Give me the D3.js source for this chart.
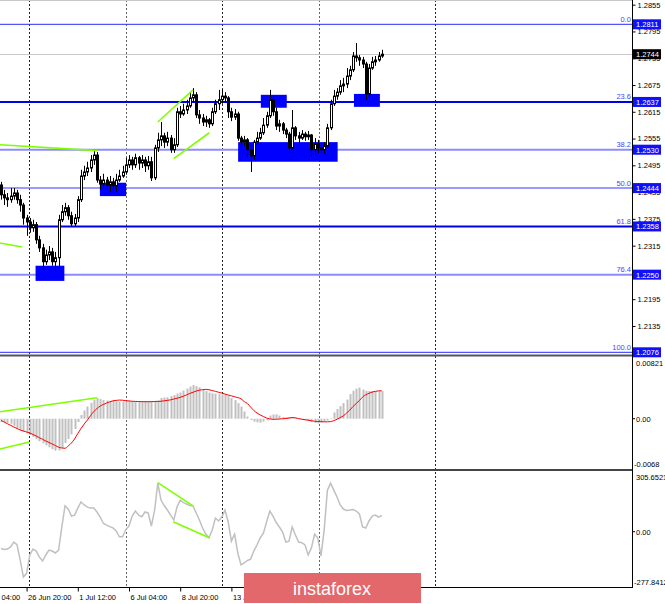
<!DOCTYPE html>
<html><head><meta charset="utf-8">
<script src="https://cdn.jsdelivr.net/npm/d3@7"></script>
<style>
body{margin:0;background:#fff;}
svg{display:block;}
text{font-family:"Liberation Sans",Arial,sans-serif;}
</style>
</head><body>
<svg id="c" width="665" height="604"></svg>
<script>
// ---------- DATA ----------
const firstOpen = 1.2451;
const closes = [1.2429,1.2422,1.2418,1.2426,1.2433,1.2418,1.2406,1.2377,1.2368,1.2355,
1.2362,1.2328,1.2310,1.2279,1.2294,1.2301,1.2279,1.2288,1.2373,1.2391,
1.2400,1.2382,1.2364,1.2377,1.2418,1.2471,1.2480,1.2489,1.2507,1.2518,
1.2462,1.2453,1.2462,1.2451,1.2458,1.2449,1.2462,1.2471,1.2480,1.2496,
1.2507,1.2496,1.2512,1.2500,1.2507,1.2494,1.2503,1.2467,1.2534,1.2552,
1.2561,1.2547,1.2556,1.2530,1.2541,1.2615,1.2610,1.2619,1.2628,1.2646,
1.2653,1.2608,1.2601,1.2592,1.2597,1.2588,1.2615,1.2633,1.2642,1.2650,
1.2646,1.2615,1.2603,1.2610,1.2556,1.2547,1.2552,1.2530,1.2516,1.2547,
1.2556,1.2568,1.2585,1.2606,1.2642,1.2615,1.2583,1.2588,1.2574,1.2565,
1.2534,1.2579,1.2561,1.2556,1.2565,1.2559,1.2563,1.2530,1.2543,1.2534,
1.2530,1.2538,1.2579,1.2633,1.2650,1.2659,1.2673,1.2677,1.2695,1.2709,
1.2740,1.2736,1.2731,1.2722,1.2655,1.2713,1.2727,1.2731,1.2740,1.2744];
const highs = [1.2458,1.2440,1.2433,1.2444,1.2444,1.2440,1.2429,1.2411,1.2384,1.2377,
1.2373,1.2368,1.2337,1.2319,1.2306,1.2314,1.2310,1.2301,1.2384,1.2406,
1.2411,1.2406,1.2391,1.2386,1.2426,1.2485,1.2494,1.2503,1.2518,1.2530,
1.2525,1.2471,1.2476,1.2469,1.2471,1.2467,1.2476,1.2485,1.2494,1.2512,
1.2518,1.2514,1.2521,1.2516,1.2518,1.2514,1.2516,1.2514,1.2541,1.2568,
1.2592,1.2568,1.2570,1.2563,1.2556,1.2624,1.2628,1.2633,1.2642,1.2659,
1.2668,1.2659,1.2619,1.2610,1.2606,1.2601,1.2624,1.2642,1.2664,1.2666,
1.2659,1.2650,1.2624,1.2621,1.2615,1.2561,1.2561,1.2556,1.2541,1.2552,
1.2570,1.2579,1.2601,1.2615,1.2664,1.2650,1.2624,1.2597,1.2592,1.2579,
1.2570,1.2619,1.2583,1.2570,1.2574,1.2570,1.2572,1.2565,1.2556,1.2552,
1.2545,1.2547,1.2588,1.2642,1.2664,1.2668,1.2686,1.2691,1.2713,1.2718,
1.2749,1.2769,1.2742,1.2738,1.2727,1.2722,1.2738,1.2740,1.2749,1.2754];
const lows = [1.2418,1.2406,1.2402,1.2411,1.2418,1.2409,1.2391,1.2362,1.2337,1.2344,
1.2346,1.2319,1.2301,1.2261,1.2272,1.2283,1.2270,1.2256,1.2265,1.2368,
1.2382,1.2373,1.2359,1.2359,1.2368,1.2413,1.2462,1.2471,1.2480,1.2496,
1.2456,1.2440,1.2444,1.2440,1.2435,1.2433,1.2435,1.2458,1.2467,1.2474,
1.2489,1.2485,1.2489,1.2485,1.2489,1.2480,1.2485,1.2460,1.2462,1.2525,
1.2538,1.2534,1.2538,1.2523,1.2523,1.2536,1.2601,1.2606,1.2610,1.2624,
1.2637,1.2601,1.2588,1.2583,1.2581,1.2579,1.2583,1.2610,1.2619,1.2633,
1.2635,1.2601,1.2594,1.2597,1.2550,1.2536,1.2538,1.2512,1.2480,1.2507,
1.2541,1.2552,1.2563,1.2579,1.2601,1.2606,1.2574,1.2570,1.2565,1.2556,
1.2523,1.2530,1.2552,1.2545,1.2552,1.2550,1.2552,1.2514,1.2518,1.2523,
1.2523,1.2521,1.2534,1.2574,1.2628,1.2642,1.2653,1.2659,1.2668,1.2686,
1.2704,1.2727,1.2718,1.2713,1.2642,1.2646,1.2709,1.2718,1.2727,1.2736];

const macdHist = [-0.00042,-0.00049,-0.00057,-0.00068,-0.00096,-0.00126,-0.00154,-0.00176,-0.00197,-0.00219,
-0.00247,-0.00277,-0.00305,-0.00333,-0.0036,-0.00387,-0.00413,-0.00432,-0.00429,-0.00396,
-0.00328,-0.00274,-0.00213,-0.00139,-0.00045,0.0005,0.00111,0.00165,0.00216,0.00252,
0.0028,0.00266,0.00252,0.00247,0.00243,0.00239,0.00235,0.0023,0.00232,0.00236,
0.00239,0.00236,0.00232,0.0023,0.00232,0.00235,0.00235,0.00239,0.00242,0.00246,
0.0028,0.00286,0.00289,0.00306,0.0032,0.0034,0.00354,0.00381,0.00408,0.00435,
0.00455,0.00441,0.00424,0.00394,0.00374,0.00354,0.00344,0.00338,0.00333,0.00329,
0.00323,0.00306,0.0028,0.00252,0.00212,0.00165,0.00097,0.0003,-0.00018,-0.0004,
-0.00049,-0.00054,-0.00038,-0.00022,0.00043,0.00057,0.00059,0.00043,0.00023,0.0002,
0.00023,0.00023,0.00012,0.00001,-0.00004,-0.00015,-0.00031,-0.00045,-0.00058,-0.00062,
-0.00051,-0.00038,-0.00024,0.00003,0.00084,0.00131,0.00171,0.00212,0.00259,0.00333,
0.00378,0.00406,0.00421,0.00394,0.00377,0.00374,0.00374,0.00374,0.00374,0.00374];
const macdSignal = [-0.00024,-0.00045,-0.00068,-0.00089,-0.00112,-0.00132,-0.00153,-0.00166,-0.0018,-0.00193,
-0.00213,-0.00234,-0.00257,-0.00278,-0.00301,-0.00321,-0.00342,-0.00363,-0.00385,-0.00396,
-0.004,-0.00369,-0.00328,-0.00274,-0.002,-0.00132,-0.00072,-0.00018,0.00043,0.00097,
0.00138,0.00171,0.00192,0.00212,0.00228,0.00242,0.00248,0.00252,0.0025,0.00244,
0.0024,0.00236,0.00234,0.00232,0.00231,0.0023,0.0023,0.00231,0.00232,0.00234,
0.00236,0.00242,0.00248,0.00255,0.00266,0.00277,0.00289,0.00304,0.00323,0.00342,
0.00358,0.00374,0.00386,0.00393,0.00397,0.00392,0.00381,0.0037,0.00358,0.00347,
0.00333,0.0032,0.00309,0.00297,0.00285,0.00269,0.00232,0.00205,0.00158,0.00111,
0.00077,0.0005,0.0003,0.00009,-0.00003,-0.00008,-0.00007,-0.00004,-0.00001,0.00003,
0.00009,0.00016,0.00012,0.00001,-0.00007,-0.00014,-0.0002,-0.00028,-0.00034,-0.00038,
-0.0004,-0.00042,-0.00042,-0.00039,-0.00026,-0.00008,0.00016,0.00039,0.00077,0.00117,
0.00165,0.00205,0.00246,0.00293,0.00324,0.00344,0.0036,0.0037,0.00377,0.00378];
const cci = [-86,-91,-89,-78,-53,-66,-145,-232,-213,-119,
-89,-99,-130,-150,-119,-94,-99,-109,-94,24,
132,116,80,85,121,152,137,126,121,121,
101,75,42,34,26,19,4,-26,-26,11,
29,80,106,85,77,101,96,29,111,249,
162,134,111,85,60,126,162,149,142,134,
132,96,60,19,-12,-31,9,70,55,75,
111,50,-48,-12,-109,-170,-160,-147,-140,-99,
-68,-32,-7,50,106,80,47,24,-2,-53,
-48,24,-17,-53,-56,-68,-119,-83,-12,-32,
-124,9,213,249,213,178,137,116,109,111,
114,106,91,24,19,55,80,85,75,83];

const fibLevels = [1.2811, 1.2637, 1.2530, 1.2444, 1.2358, 1.2250, 1.2076];
const fibNames = ["0.0", "23.6", "38.2", "50.0", "61.8", "76.4", "100.0"];
const priceTicks = [1.2855,1.2795,1.2735,1.2675,1.2615,1.2555,1.2495,1.2435,1.2375,1.2315,1.2195,1.2135];
const lastPrice = 1.2744;
const macdTicks = [0.00821, 0, -0.0068];
const macdTickLabels = ["0.00821", "0.00", "-0.0068"];
const cciTicks = [305.6521, 0, -277.8412];
const cciTickLabels = ["305.6521", "0.00", "-277.8412"];
const timeBars = [-8, 8, 24, 40, 56, 72];
const timeLabels = ["24 Jun 04:00", "26 Jun 20:00", "1 Jul 12:00", "6 Jul 04:00", "8 Jul 20:00", "13 Jul 12:00"];
const gridBars = [8.9, 39, 69.2, 99.5, 135.7];
// zones: [barStart, barEnd, priceTop, priceBottom]
const zones = [[10.8,19.8,1.2270,1.2236],[30.9,39.1,1.2456,1.2426],[81.2,89.3,1.2653,1.2624],
               [74.1,105.2,1.2547,1.2503],[110.3,118.4,1.2655,1.2626]];
const priceTrends = [[[-0.3,1.2541],[30,1.2528]], [[-0.3,1.2321],[6.6,1.2312]],
                     [[49,1.2592],[60,1.2664]], [[54,1.2510],[65.1,1.2568]]];
const macdTrends = [[[-0.3,0.00095],[30,0.00284]], [[-0.3,-0.00409],[8.8,-0.00315]]];
const cciTrends = [[[49,251],[60,132]], [[53.8,51],[65.1,-31]]];

// ---------- DRAW ----------
const svg = d3.select('#c');
const R = 632;
const x = d3.scaleLinear().domain([0, 119]).range([1, 381.8]);
const yP = d3.scaleLinear().domain([1.2811, 1.2076]).range([24.3, 352.3]);
const yM = d3.scaleLinear().domain([0.00821, -0.0068]).range([358, 469]);
const yC = d3.scaleLinear().domain([305.6521, -277.8412]).range([472, 586]);

svg.append('rect').attr('width',665).attr('height',604).attr('fill','#fff');
const defs = svg.append('defs');
[['cm',0,0,R,355],['cd',0,357,R,112],['cc',0,471,R,115]].forEach(c=>{
  defs.append('clipPath').attr('id',c[0]).append('rect').attr('x',c[1]).attr('y',c[2]).attr('width',c[3]).attr('height',c[4]);
});

// grid (dotted vertical)
svg.append('g').selectAll('line').data(gridBars).join('line')
  .attr('x1',d=>Math.round(x(d))+0.5).attr('x2',d=>Math.round(x(d))+0.5)
  .attr('y1',0).attr('y2',587).attr('stroke',(d,i)=>i%2?'#666':'#222')
  .attr('stroke-width',1).attr('stroke-dasharray','2,2');

// top border
svg.append('line').attr('x1',0).attr('x2',R).attr('y1',0.5).attr('y2',0.5).attr('stroke','#c8c8c8');

const gm = svg.append('g').attr('clip-path','url(#cm)');
// current price line
gm.append('line').attr('x1',0).attr('x2',R).attr('y1',Math.round(yP(lastPrice))+0.5).attr('y2',Math.round(yP(lastPrice))+0.5)
  .attr('stroke','#c8c8c8').attr('stroke-width',1);
// fib lines
const fibStroke = ['#2a2aff','#0000e6','#8c8cff','#7a7aff','#0000e6','#8c8cff','#2a2aff'];
const fibW = [1,2,2,1.5,2,2,1];
gm.selectAll('line.fib').data(fibLevels).join('line').attr('class','fib')
  .attr('x1',0).attr('x2',R).attr('y1',d=>yP(d)).attr('y2',d=>yP(d))
  .attr('stroke',(d,i)=>fibStroke[i]).attr('stroke-width',(d,i)=>fibW[i]);
// zones
gm.selectAll('rect.zone').data(zones).join('rect').attr('class','zone')
  .attr('x',d=>x(d[0])).attr('width',d=>x(d[1])-x(d[0]))
  .attr('y',d=>yP(d[2])).attr('height',d=>yP(d[3])-yP(d[2])).attr('fill','#0000ff');
// candles
const bars = closes.map((c,i)=>{
  const o = i===0 ? firstOpen : closes[i-1];
  return {i, o, c, h: Math.max(highs[i],o,c), l: Math.min(lows[i],o,c)};
});
const cg = gm.append('g');
cg.selectAll('line.wick').data(bars).join('line').attr('class','wick')
  .attr('x1',d=>Math.round(x(d.i))+0.5).attr('x2',d=>Math.round(x(d.i))+0.5)
  .attr('y1',d=>yP(d.h)).attr('y2',d=>yP(d.l)).attr('stroke','#000').attr('stroke-width',1);
cg.selectAll('rect.body').data(bars).join('rect').attr('class','body')
  .attr('x',d=>Math.round(x(d.i))-0.5).attr('width',2)
  .attr('y',d=>yP(Math.max(d.o,d.c))).attr('height',d=>Math.max(1,Math.abs(yP(d.o)-yP(d.c))))
  .attr('fill',d=>d.c>=d.o?'#fff':'#000').attr('stroke','#000').attr('stroke-width',1);
// trend lines
const lineP = d3.line().x(d=>x(d[0])).y(d=>yP(d[1]));
gm.selectAll('path.tr').data(priceTrends).join('path').attr('class','tr').attr('d',lineP)
  .attr('fill','none').attr('stroke','#7fff00').attr('stroke-width',1.6);
// fib names (outside clip)
svg.append('g').selectAll('text').data(fibLevels).join('text')
  .attr('x',631).attr('y',d=>yP(d)-2.5).attr('text-anchor','end')
  .attr('font-size','7.5px').attr('fill','#4646ff').text((d,i)=>fibNames[i]);

// MACD panel
const gd = svg.append('g').attr('clip-path','url(#cd)');
gd.selectAll('rect').data(macdHist).join('rect')
  .attr('x',(d,i)=>Math.round(x(i))-0.5).attr('width',2)
  .attr('y',d=>Math.min(yM(d),yM(0))).attr('height',d=>Math.max(0.5,Math.abs(yM(d)-yM(0))))
  .attr('fill','#c0c0c0');
gd.append('path').datum(macdSignal).attr('d',d3.line().x((d,i)=>x(i)).y(d=>yM(d)).curve(d3.curveMonotoneX))
  .attr('fill','none').attr('stroke','#ff0000').attr('stroke-width',1);
gd.selectAll('path.tr').data(macdTrends).join('path').attr('class','tr')
  .attr('d',d3.line().x(d=>x(d[0])).y(d=>yM(d[1])))
  .attr('fill','none').attr('stroke','#7fff00').attr('stroke-width',1.6);

// CCI panel
const gc = svg.append('g').attr('clip-path','url(#cc)');
gc.append('path').datum(cci).attr('d',d3.line().x((d,i)=>x(i)).y(d=>yC(d)))
  .attr('fill','none').attr('stroke','#c0c0c0').attr('stroke-width',1.5);
gc.selectAll('path.tr').data(cciTrends).join('path').attr('class','tr')
  .attr('d',d3.line().x(d=>x(d[0])).y(d=>yC(d[1])))
  .attr('fill','none').attr('stroke','#7fff00').attr('stroke-width',1.6);

// separators and frame
svg.append('line').attr('x1',0).attr('x2',R).attr('y1',355.5).attr('y2',355.5).attr('stroke','#555').attr('stroke-width',2);
svg.append('line').attr('x1',0).attr('x2',R).attr('y1',470).attr('y2',470).attr('stroke','#444').attr('stroke-width',2);
svg.append('line').attr('x1',0).attr('x2',R).attr('y1',587.5).attr('y2',587.5).attr('stroke','#000').attr('stroke-width',1);
svg.append('line').attr('x1',R+0.5).attr('x2',R+0.5).attr('y1',0).attr('y2',588).attr('stroke','#000').attr('stroke-width',1);

// price axis
const ax = svg.append('g').attr('transform',`translate(${R+0.5},0)`)
  .call(d3.axisRight(yP).tickValues(priceTicks).tickSize(3).tickPadding(2).tickFormat(d3.format('.4f')));
ax.select('.domain').remove();
ax.selectAll('text').attr('font-size','7.5px').attr('font-family','"Liberation Sans",Arial,sans-serif').attr('fill','#000');
ax.selectAll('line').attr('stroke','#000');

// fib value boxes
const fb = svg.append('g');
fb.selectAll('rect').data(fibLevels).join('rect').attr('x',R+1).attr('width',28)
  .attr('y',d=>yP(d)-5).attr('height',10).attr('fill','#1010ff');
fb.selectAll('text').data(fibLevels).join('text').attr('x',R+4).attr('y',d=>yP(d)+3)
  .attr('font-size','7.5px').attr('fill','#fff').text(d=>d3.format('.4f')(d));
// last price box
svg.append('rect').attr('x',R+1).attr('width',28).attr('y',yP(lastPrice)-5).attr('height',10).attr('fill','#000');
svg.append('text').attr('x',R+4).attr('y',yP(lastPrice)+3).attr('font-size','7.5px').attr('fill','#fff').text(d3.format('.4f')(lastPrice));

// MACD axis
svg.selectAll('text.ml').data(macdTicks).join('text').attr('class','ml')
  .attr('x',(d,i)=>i===2?R+2:R+4).attr('y',(d,i)=>[yM(d)+7.5, yM(d)+3, yM(d)-2][i])
  .attr('font-size','7.5px').attr('fill','#000').text((d,i)=>macdTickLabels[i]);
svg.append('line').attr('x1',R).attr('x2',R+3).attr('y1',yM(0)).attr('y2',yM(0)).attr('stroke','#000');
// CCI axis
svg.selectAll('text.cl').data(cciTicks).join('text').attr('class','cl')
  .attr('x',(d,i)=>i===2?R+2:R+4).attr('y',(d,i)=>[yC(d)+7.5, yC(d)+3, yC(d)-1.5][i])
  .attr('font-size','7.5px').attr('fill','#000').text((d,i)=>cciTickLabels[i]);
svg.append('line').attr('x1',R).attr('x2',R+3).attr('y1',yC(0)).attr('y2',yC(0)).attr('stroke','#000');

// time axis
const tx = svg.append('g').attr('transform','translate(0,587.5)')
  .call(d3.axisBottom(x).tickValues(timeBars).tickSize(4).tickPadding(3).tickFormat((d,i)=>timeLabels[i]));
tx.select('.domain').remove();
tx.selectAll('line').attr('stroke','#000');
tx.selectAll('text').attr('text-anchor','start').attr('dx','1').attr('font-size','7.5px')
  .attr('font-family','"Liberation Sans",Arial,sans-serif').attr('fill','#000');

// watermark
svg.append('rect').attr('x',244).attr('y',573).attr('width',177).attr('height',30).attr('fill','#e3686b');
svg.append('text').attr('x',332).attr('y',595).attr('text-anchor','middle')
  .attr('font-family','"Open Sans",sans-serif').attr('font-size','18px').attr('fill','#fff').text('instaforex');
</script>
</body></html>
